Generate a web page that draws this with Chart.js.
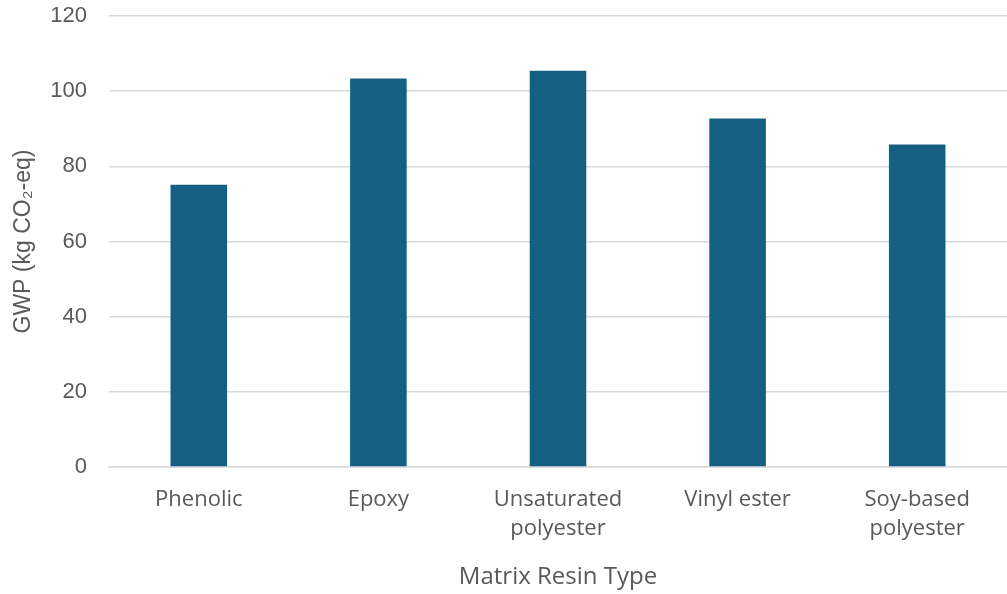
<!DOCTYPE html>
<html>
<head>
<meta charset="utf-8">
<script src="https://cdn.jsdelivr.net/npm/chart.js@4"></script>
<style>
  html, body { margin: 0; padding: 0; background: #fff; }
  #wrap { width: 1007px; height: 594px; }
</style>
</head>
<body>
<div id="wrap"><canvas id="chart" width="1007" height="594"></canvas></div>
<script>
const categories = [
  'Phenolic',
  'Epoxy',
  ['Unsaturated', 'polyester'],
  'Vinyl ester',
  ['Soy-based', 'polyester'],
]
const gwpValues = [75.1, 103.4, 105.4, 92.7, 85.8]
const yTicks = [0, 20, 40, 60, 80, 100, 120]

const textColor = '#595959'
const gridColor = '#d9d9d9'
const catFont = "'Open Sans', 'Liberation Sans', sans-serif"
const numFont = "'Liberation Sans', Arial, sans-serif"

const ctx = document.getElementById('chart').getContext('2d')
new Chart(ctx, {
  type: 'bar',
  data: {
    labels: categories,
    datasets: [
      {
        data: gwpValues,
        backgroundColor: '#156082',
        categoryPercentage: 1,
        barPercentage: 0.315,
      },
    ],
  },
  options: {
    responsive: false,
    animation: false,
    layout: { padding: { top: 16, right: -7, left: 0, bottom: 0 } },
    plugins: {
      legend: { display: false },
      tooltip: { enabled: false },
    },
    scales: {
      x: {
        grid: { display: false },
        border: { display: true, color: gridColor, width: 1.5 },
        ticks: {
          color: textColor,
          font: { family: catFont, size: 22, lineHeight: 1.32 },
          padding: 10,
          maxRotation: 0,
          autoSkip: false,
        },
        title: {
          display: true,
          text: 'Matrix Resin Type',
          color: textColor,
          font: { family: catFont, size: 24 },
          padding: { top: 10, bottom: 2 },
        },
        afterFit: (axis) => {
          axis.height = 127
          axis.paddingLeft = 0
          axis.paddingRight = 0
        },
      },
      y: {
        min: 0,
        max: 120,
        afterBuildTicks: (axis) => { axis.ticks = yTicks.map((v) => ({ value: v })) },
        grid: { color: gridColor, lineWidth: 1.5, drawTicks: false },
        border: { display: false },
        ticks: {
          color: textColor,
          font: { family: numFont, size: 22 },
          padding: 22,
        },
        title: {
          display: true,
          text: 'GWP (kg CO\u2082-eq)',
          color: textColor,
          font: { family: numFont, size: 23 },
          padding: { top: 10, bottom: 4 },
        },
        afterFit: (axis) => {
          axis.width = 109
          axis.paddingTop = 0
          axis.paddingBottom = 0
        },
      },
    },
  },
})
</script>
</body>
</html>
